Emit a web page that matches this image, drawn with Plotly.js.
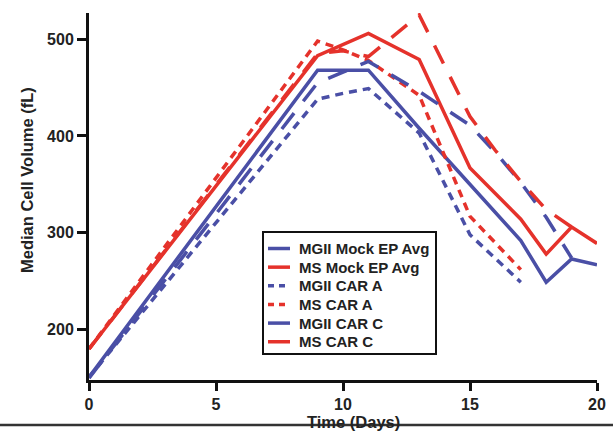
<!DOCTYPE html>
<html><head><meta charset="utf-8">
<script src="https://cdn.plot.ly/plotly-3.0.1.min.js"></script>
<style>html,body{margin:0;padding:0;background:#fff}#chart{width:613px;height:431px}</style>
</head><body><div id="chart"></div>
<script>
// ---- data ----
const seriesNames = ['MGII Mock EP Avg', 'MS Mock EP Avg', 'MGII CAR A', 'MS CAR A', 'MGII CAR C', 'MS CAR C'];

const mgiiMockDays = [0, 9, 10, 11, 13, 15, 17, 18, 19, 20];
const mgiiMockVals = [151, 468, 468, 468, 408, 350, 292, 249, 273, 267];

const msMockDays = [0, 9, 11, 13, 15, 17, 18, 19, 20];
const msMockVals = [180, 483, 506, 479, 367, 314, 278, 306, 289];

const mgiiCarADays = [0, 9, 10, 11, 13, 15, 17];
const mgiiCarAVals = [151, 438, 444, 449, 403, 298, 249];

const msCarADays = [0, 9, 10, 11, 13, 15, 17];
const msCarAVals = [180, 498, 489, 478, 442, 317, 262];

const mgiiCarCDays = [0, 9, 10, 11, 13, 15, 16, 17, 18, 19];
const mgiiCarCVals = [150, 455, 466, 477, 446, 411, 383, 352, 316, 274];

const msCarCDays = [0, 9, 10, 11, 13, 15, 16, 17, 18, 19];
const msCarCVals = [180, 485, 488, 482, 525, 420, 385, 353, 324, 306];

const xTickVals = [0, 5, 10, 15, 20];
const yTickVals = [200, 300, 400, 500];

// ---- styling ----
const BLUE = '#4a4fa6', RED = '#e5322b';
const SHORT = '8px,6px', LONG = '20px,15px';
const styles = [
  {color: BLUE, dash: 'solid', key: 'solid'}, {color: RED, dash: 'solid', key: 'solid'},
  {color: BLUE, dash: SHORT, key: '6px,5px'}, {color: RED, dash: SHORT, key: '6px,5px'},
  {color: BLUE, dash: LONG, key: 'solid'}, {color: RED, dash: LONG, key: 'solid'}
];
const xs = [mgiiMockDays, msMockDays, mgiiCarADays, msCarADays, mgiiCarCDays, msCarCDays];
const ys = [mgiiMockVals, msMockVals, mgiiCarAVals, msCarAVals, mgiiCarCVals, msCarCVals];

const W = 613, H = 431, L = 89, R = 16, T = 13, B = 51;
const pw = W - L - R, ph = H - T - B;
const px2x = p => (p - L) / pw;
const py2y = p => (H - B - p) / ph;

const FONT = 'Arial, "Liberation Sans", Helvetica, sans-serif';

const traces = seriesNames.map((n, i) => ({
  type: 'scatter', mode: 'lines', name: n,
  x: xs[i], y: ys[i],
  line: {color: styles[i].color, width: 3.5, dash: styles[i].dash},
  showlegend: false, hoverinfo: 'skip'
}));

// manual legend (keys + labels)
const shapes = [];
const annotations = [];
const lgLeft = 263, lgRight = 436, lgTop = 232, lgBottom = 354;
shapes.push({type: 'rect', xref: 'paper', yref: 'paper',
  x0: px2x(lgLeft), x1: px2x(lgRight), y0: py2y(lgBottom), y1: py2y(lgTop),
  fillcolor: '#ffffff', line: {color: '#111', width: 2}, layer: 'above'});
seriesNames.forEach((n, i) => {
  const cy = 248.5 + i * 18.65;
  shapes.push({type: 'line', xref: 'paper', yref: 'paper',
    x0: px2x(268), x1: px2x(290), y0: py2y(cy), y1: py2y(cy),
    line: {color: styles[i].color, width: 3.5, dash: styles[i].key},
    layer: 'above'});
  annotations.push({xref: 'paper', yref: 'paper', x: px2x(297), y: py2y(cy),
    xanchor: 'left', yanchor: 'middle', showarrow: false, text: n,
    font: {family: FONT, size: 15, weight: 'bold', color: '#222'}});
});

// bottom crop line
shapes.push({type: 'line', xref: 'paper', yref: 'paper',
  x0: px2x(0), x1: px2x(613), y0: py2y(425), y1: py2y(425),
  line: {color: '#333', width: 2.5}, layer: 'above'});

// axis titles
annotations.push({xref: 'paper', yref: 'paper', x: px2x(27), y: py2y(180),
  xanchor: 'center', yanchor: 'middle', textangle: -90, showarrow: false,
  text: 'Median Cell Volume (fL)', font: {family: FONT, size: 16.5, weight: 'bold', color: '#222'}});
annotations.push({xref: 'paper', yref: 'paper', x: px2x(353), y: py2y(422),
  xanchor: 'center', yanchor: 'middle', showarrow: false,
  text: 'Time (Days)', font: {family: FONT, size: 16.5, weight: 'bold', color: '#222'}});

const axisCommon = {
  showline: true, linecolor: '#111', linewidth: 3, ticks: 'outside', ticklen: 8,
  tickwidth: 3, tickcolor: '#111', showgrid: false, zeroline: false,
  tickfont: {family: FONT, size: 16, weight: 'bold', color: '#222'}, fixedrange: true
};

const layout = {
  width: W, height: H, margin: {l: L, r: R, t: T, b: B, pad: 0},
  paper_bgcolor: '#fff', plot_bgcolor: '#fff', showlegend: false,
  xaxis: Object.assign({}, axisCommon, {range: [0, 20], tickmode: 'array', tickvals: xTickVals}),
  yaxis: Object.assign({}, axisCommon, {range: [148, 527], tickmode: 'array', tickvals: yTickVals, ticklen: 9}),
  shapes: shapes, annotations: annotations
};

Plotly.newPlot('chart', traces, layout, {displayModeBar: false, staticPlot: true});
</script>
</body></html>
